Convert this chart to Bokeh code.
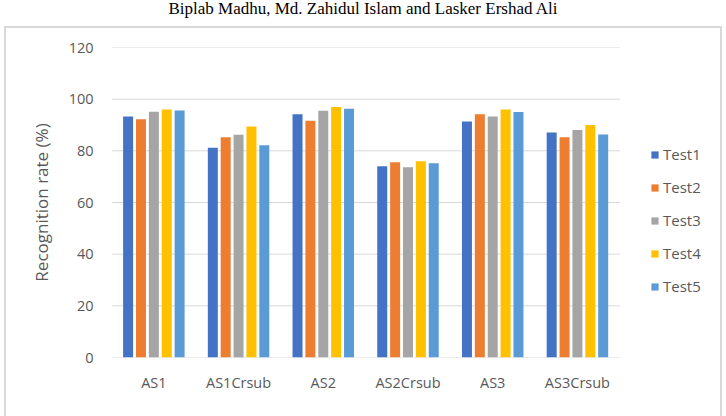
from bokeh.plotting import figure
from bokeh.models import Div, Range1d, ColumnDataSource, FixedTicker
from bokeh.layouts import column
from bokeh.transform import dodge
from bokeh.embed import file_html
from bokeh.resources import INLINE

header_text = "Biplab Madhu, Md. Zahidul Islam and Lasker Ershad Ali"
categories = ["AS1", "AS1Crsub", "AS2", "AS2Crsub", "AS3", "AS3Crsub"]
series_names = ["Test1", "Test2", "Test3", "Test4", "Test5"]
test1 = [93.3, 81.2, 94.2, 74.0, 91.4, 87.1]
test2 = [92.2, 85.3, 91.6, 75.6, 94.2, 85.3]
test3 = [95.1, 86.2, 95.5, 73.6, 93.3, 88.1]
test4 = [96.0, 89.4, 97.0, 76.0, 96.0, 90.0]
test5 = [95.6, 82.2, 96.3, 75.2, 95.0, 86.3]
y_ticks = [0, 20, 40, 60, 80, 100, 120]
colors = ["#4472C4", "#ED7D31", "#A5A5A5", "#FFC000", "#5B9BD5"]

n = len(categories)
centers = [i + 0.5 for i in range(n)]
src = ColumnDataSource(dict(pos=centers, Test1=test1, Test2=test2,
                            Test3=test3, Test4=test4, Test5=test5))

FONT = "Open Sans"
GRAY = "#595959"

# one extra (empty) unit on the right leaves room for the legend
p = figure(x_range=Range1d(0, n + 1), y_range=Range1d(0, 120),
           width=714, height=388, output_backend="svg", toolbar_location=None,
           title_location=None,
           min_border_left=105, min_border_right=16,
           min_border_top=19, min_border_bottom=59)

# horizontal gridlines spanning only the category area
p.segment(x0=[0] * len(y_ticks), x1=[n] * len(y_ticks), y0=y_ticks, y1=y_ticks,
          line_color="#d9d9d9", line_width=1)

offsets = [-0.304, -0.152, 0.0, 0.152, 0.304]
for name, off, col in zip(series_names, offsets, colors):
    p.vbar(x=dodge("pos", off), top=name, width=0.118,
           source=src, fill_color=col, line_color=None, legend_label=name)

p.outline_line_color = None
p.xgrid.grid_line_color = None
p.ygrid.grid_line_color = None
p.yaxis.ticker = FixedTicker(ticks=y_ticks)
p.yaxis.axis_line_color = None
p.yaxis.major_tick_line_color = None
p.yaxis.minor_tick_line_color = None
p.yaxis.major_label_standoff = 12
p.yaxis.axis_label = "Recognition rate (%)"
p.yaxis.axis_label_text_font = FONT
p.yaxis.axis_label_text_font_size = "17px"
p.yaxis.axis_label_text_font_style = "normal"
p.yaxis.axis_label_text_color = GRAY
p.yaxis.axis_label_standoff = 13

p.xaxis.ticker = FixedTicker(ticks=centers)
p.xaxis.major_label_overrides = {c: lab for c, lab in zip(centers, categories)}
p.xaxis.axis_line_color = None
p.xaxis.major_tick_line_color = None
p.xaxis.minor_tick_line_color = None
p.xaxis.major_label_standoff = 9

for ax in (p.xaxis, p.yaxis):
    ax.major_label_text_font = FONT
    ax.major_label_text_font_size = "14.5px"
    ax.major_label_text_color = GRAY

lg = p.legend[0]
lg.location = (539, 61)
lg.padding = 0
lg.margin = 0
lg.border_line_color = None
lg.background_fill_alpha = 0
lg.label_standoff = 4
lg.glyph_width = 9
lg.glyph_height = 9
lg.label_height = 20
lg.spacing = 13
lg.label_text_font = FONT
lg.label_text_font_size = "15px"
lg.label_text_color = GRAY

header = Div(text=('<div style="position:relative; top:0px; width:726px; '
                   'text-align:center; font-family:\'Liberation Serif\'; '
                   'font-size:17px; line-height:17px; color:#000; white-space:nowrap;">'
                   + header_text + '</div>'),
             width=726, height=26, margin=0)

framed = column(p, margin=(0, 0, 0, 4),
                styles={"border-left": "2px solid #d9d9d9",
                        "border-right": "2px solid #d9d9d9",
                        "border-top": "2px solid #d9d9d9"})

layout = column(header, framed)

open("out.html", "w").write(file_html(layout, INLINE))
